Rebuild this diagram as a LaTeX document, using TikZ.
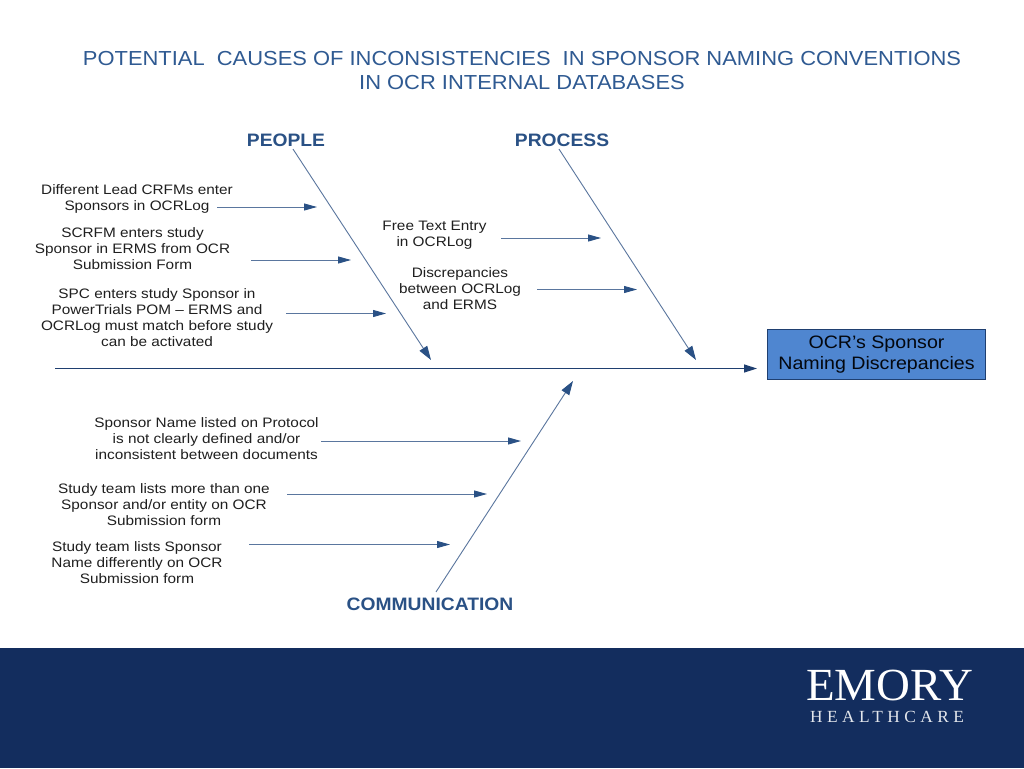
\documentclass[tikz,border=0pt]{standalone}
\usepackage{fontspec}
\setmainfont[FakeStretch=1.12]{Liberation Sans}
\newfontfamily\titlefont[FakeStretch=1.08]{Liberation Sans}
\newfontfamily\headfont[FakeStretch=1.07]{Liberation Sans}
\newfontfamily\boxfont[FakeStretch=1.09]{Liberation Sans}
\newfontfamily\logofont[FakeStretch=1.02]{Liberation Serif}
\usetikzlibrary{arrows.meta}
\definecolor{navy}{HTML}{132D5E}
\definecolor{titleblue}{HTML}{2F5A92}
\definecolor{linec}{HTML}{5A769E}
\definecolor{spine}{HTML}{1F3F70}
\definecolor{headc}{HTML}{2A5185}
\definecolor{boxfill}{HTML}{4F86D0}
\definecolor{txt}{HTML}{1F1F1F}
\tikzset{
 x=1pt,y=-1pt,
 cause/.style={align=center,font=\fontsize{13.7}{16}\selectfont,text=txt,inner sep=0pt},
 head/.style={font=\headfont\fontsize{18}{20}\selectfont\bfseries,text=headc,inner sep=0pt},
 arr/.style={draw=linec,line width=0.9pt,-{Triangle[length=13pt,width=7pt,color=headc]}},
 bone/.style={draw=linec,line width=0.9pt,-{Triangle[length=14pt,width=9pt,color=headc]}},
}
\begin{document}
\begin{tikzpicture}
\useasboundingbox (0,0) rectangle (1024,768);
\fill[white] (0,0) rectangle (1024,768);
\fill[navy] (0,648) rectangle (1024,768);
\node[align=center,text=titleblue,font=\titlefont\fontsize{20.3}{23.5}\selectfont,inner sep=0pt] (title) at (522,70.5) {POTENTIAL\hspace{6pt} CAUSES OF INCONSISTENCIES\hspace{6pt} IN SPONSOR NAMING CONVENTIONS\\IN OCR INTERNAL DATABASES};
\node[head] (people) at (286,140.5) {PEOPLE};
\node[head] (process) at (562,140.5) {PROCESS};
\node[head] (comm) at (430,604.5) {COMMUNICATION};
\node[draw=spine,fill=boxfill,line width=0.9pt,minimum width=218pt,minimum height=50pt,inner sep=0pt,align=center,text=black!85!navy,font=\boxfont\fontsize{18}{21}\selectfont] (effect) at (876.5,354.5) {OCR’s Sponsor\\Naming Discrepancies};
\coordinate (tail) at (55,368.5);
\coordinate (spineend) at (757,368.5);
\draw[draw=spine,line width=1.3pt,-{Triangle[length=13pt,width=8pt]}] (tail) -- (spineend);
% bones
\coordinate (pe) at (431,360);
\coordinate (pre) at (696,360);
\coordinate (ce) at (573,381);
\draw[bone] (people.south) ++(7,2) coordinate (ps) (ps) -- (pe);
\draw[bone] (process.south) ++(-3,2) coordinate (prs) (prs) -- (pre);
\draw[bone] (comm.north) ++(6,-6) coordinate (cs) (cs) -- (ce);
% causes
\node[cause] (a1) at (137,198.5) {Different Lead CRFMs enter\\Sponsors in OCRLog};
\node[cause] (a2) at (132.5,249) {SCRFM enters study\\Sponsor in ERMS from OCR\\Submission Form};
\node[cause] (a3) at (157,317.5) {SPC enters study Sponsor in\\PowerTrials POM – ERMS and\\OCRLog must match before study\\can be activated};
\node[cause] (b1) at (434.5,235) {Free Text Entry\\in OCRLog};
\node[cause] (b2) at (460,289) {Discrepancies\\between OCRLog\\and ERMS};
\node[cause] (c1) at (206.5,439) {Sponsor Name listed on Protocol\\is not clearly defined and/or\\inconsistent between documents};
\node[cause] (c2) at (164,504.5) {Study team lists more than one\\Sponsor and/or entity on OCR\\Submission form};
\node[cause] (c3) at (137,562.5) {Study team lists Sponsor\\Name differently on OCR\\Submission form};
\coordinate (a1s) at (217,207);
\coordinate (a2s) at (251,260);
\coordinate (a3s) at (286,313.5);
\coordinate (b1s) at (501,238);
\coordinate (b2s) at (537,289.5);
\coordinate (c1s) at (321,441);
\coordinate (c2s) at (287,494);
\coordinate (c3s) at (249,544.5);
\coordinate (a1e) at (317,207);
\coordinate (a2e) at (351,260);
\coordinate (a3e) at (386,313.5);
\coordinate (b1e) at (601,238);
\coordinate (b2e) at (637,289.5);
\coordinate (c1e) at (521,441);
\coordinate (c2e) at (487,494);
\coordinate (c3e) at (450,544.5);
\draw[arr] (a1s) -- (a1e);
\draw[arr] (a2s) -- (a2e);
\draw[arr] (a3s) -- (a3e);
\draw[arr] (b1s) -- (b1e);
\draw[arr] (b2s) -- (b2e);
\draw[arr] (c1s) -- (c1e);
\draw[arr] (c2s) -- (c2e);
\draw[arr] (c3s) -- (c3e);
% logo
\node[text=white,font=\logofont\fontsize{46}{46}\selectfont,inner sep=0pt] (emory) at (889.5,685) {EMORY};
\node[text=white!88!navy,font=\logofont\fontsize{17}{17}\selectfont,inner sep=0pt] (hc) at (887,716.5) {\addfontfeature{LetterSpace=26}HEALTHCARE};
\end{tikzpicture}
\end{document}
